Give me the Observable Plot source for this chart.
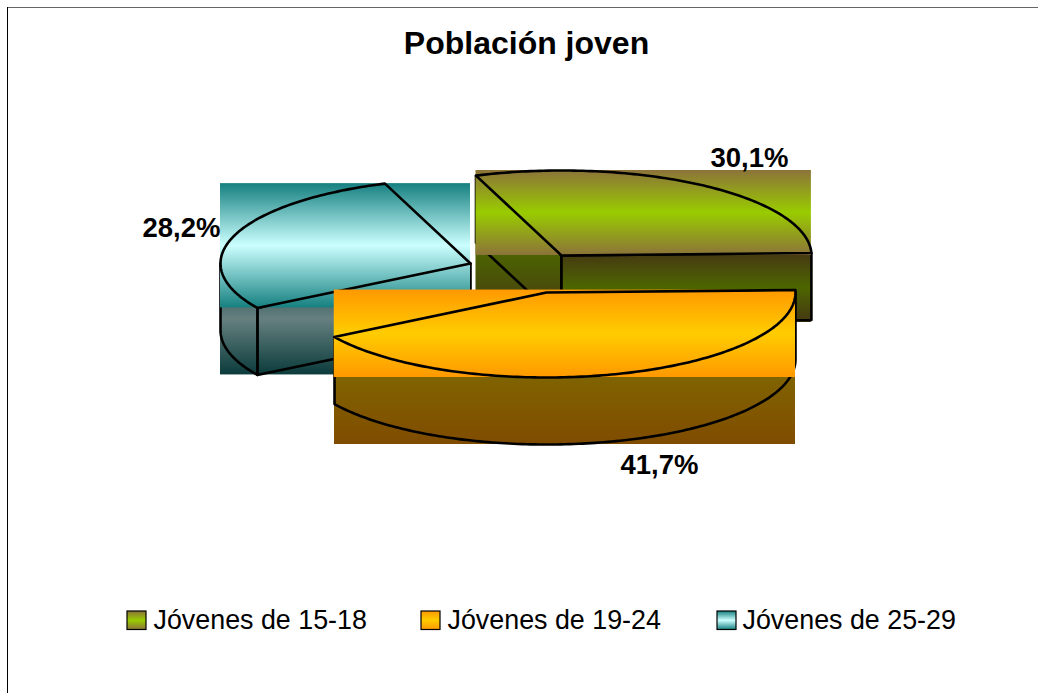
<!DOCTYPE html>
<html>
<head>
<meta charset="utf-8">
<style>html,body{margin:0;padding:0;background:#fff}svg{display:block}</style>
<script src="https://cdn.jsdelivr.net/npm/d3@7"></script>
<script src="https://cdn.jsdelivr.net/npm/@observablehq/plot@0.6"></script>
</head>
<body>
<script>
const titleText = "Población joven";
const categories = ["Jóvenes de 15-18", "Jóvenes de 19-24", "Jóvenes de 25-29"];
const shares = [30.1, 41.7, 28.2];
const shareLabels = ["30,1%", "41,7%", "28,2%"];

// Appearance and layout, kept apart from the data
const topEdge = ["#8c7339", "#ff9900", "#168080"];
const topMid  = ["#99cc00", "#ffcc00", "#ccffff"];
const sideEdge = ["#463713", "#804c00", "#0b3b3b"];
const sideMid  = ["#4d6600", "#806600", "#668080"];
const centers = [[561, 255], [546, 292], [470, 263]];
const radiiX = [250, 249, 250];
const labelAt = [[749, 158], [659, 465], [181, 228]];
const legendSwatchX = [127, 421, 717];
const legendTextX = [153, 447, 742];
const drawOrder = [2, 0, 1];
const RY = 85, DEPTH = 67, START = 250.0;
const W = 1038, H = 693;
const FONT = "'Liberation Sans', Arial, sans-serif";

const rad = d => d * Math.PI / 180;
const total = d3.sum(shares);
const spans = d3.cumsum([0, ...shares]);
const slices = categories.map((c, i) => ({
  i, c, cx: centers[i][0], cy: centers[i][1], rx: radiiX[i],
  a0: START + spans[i] / total * 360,
  a1: START + spans[i + 1] / total * 360
}));

const pt = (s, a, dz = 0) => ({x: s.cx + s.rx * Math.cos(rad(a)), y: s.cy + RY * Math.sin(rad(a)) + dz});
const arc = (s, a0, a1, dz = 0) => {
  const n = Math.max(2, Math.ceil(Math.abs(a1 - a0)));
  return d3.range(n + 1).map(k => pt(s, a0 + (a1 - a0) * k / n, dz));
};
const bbox = pts => {
  const [x1, x2] = d3.extent(pts, d => d.x), [y1, y2] = d3.extent(pts, d => d.y);
  return {x1, x2, y1, y2};
};
// portion of the rim that faces the viewer (sin > 0)
function frontRange(s) {
  let lo = null, hi = null;
  for (let a = s.a0; a <= s.a1 + 1e-6; a += 0.25) {
    if (Math.sin(rad(a)) > 0) { if (lo === null) lo = a; hi = a; }
  }
  return lo === null ? null : [lo, hi];
}

const marks = [];
const stroke = pts => Plot.line(pts, {x: "x", y: "y", stroke: "#000", strokeWidth: 2.6, strokeLinejoin: "round"});
const box = (b, id) => Plot.rect([b], {x1: "x1", x2: "x2", y1: "y1", y2: "y2", fill: `url(#${id})`});

function defs() {
  const svgNS = "http://www.w3.org/2000/svg";
  const g = document.createElementNS(svgNS, "defs");
  const add = (id, e, m) => {
    const lg = document.createElementNS(svgNS, "linearGradient");
    lg.setAttribute("id", id);
    lg.setAttribute("x1", 0); lg.setAttribute("y1", 0); lg.setAttribute("x2", 0); lg.setAttribute("y2", 1);
    [[0, e], [0.5, m], [1, e]].forEach(([o, c]) => {
      const st = document.createElementNS(svgNS, "stop");
      st.setAttribute("offset", o); st.setAttribute("stop-color", c);
      lg.appendChild(st);
    });
    g.appendChild(lg);
  };
  categories.forEach((_, i) => {
    add(`top${i}`, topEdge[i], topMid[i]);
    add(`side${i}`, sideEdge[i], sideMid[i]);
  });
  return g;
}
marks.push(defs);

// frame
marks.push(Plot.ruleY([7], {x1: 7, x2: W, stroke: "#666", strokeWidth: 1}));
marks.push(Plot.ruleX([7], {y1: 7, y2: H, stroke: "#000", strokeWidth: 1}));

drawOrder.forEach(idx => {
  const s = slices[idx];
  const c = {x: s.cx, y: s.cy}, cb = {x: s.cx, y: s.cy + DEPTH};
  const wall = a => {
    const p = pt(s, a), pb = pt(s, a, DEPTH);
    const poly = [c, p, pb, cb, c];
    marks.push(box(bbox(poly), `side${s.i}`));
    marks.push(stroke(poly));
  };
  if (Math.cos(rad(s.a0)) < 0) wall(s.a0);
  if (Math.cos(rad(s.a1)) > 0) wall(s.a1);
  const fr = frontRange(s);
  if (fr) {
    const up = arc(s, fr[0], fr[1]), low = arc(s, fr[0], fr[1], DEPTH);
    marks.push(box(bbox([...up, ...low]), `side${s.i}`));
    marks.push(stroke([up[0], ...low, up[up.length - 1]]));
  }
  const face = [c, ...arc(s, s.a0, s.a1), c];
  marks.push(box(bbox(face), `top${s.i}`));
  marks.push(stroke(face));
});

// share labels
marks.push(Plot.text(shareLabels, {
  x: (_, i) => labelAt[i][0], y: (_, i) => labelAt[i][1], text: d => d,
  fontFamily: FONT, fontWeight: "bold", fontSize: 27.5, fill: "#000", lineAnchor: "middle", textAnchor: "middle"
}));
// title
marks.push(Plot.text([titleText], {
  x: () => 526, y: () => 43, text: d => d,
  fontFamily: FONT, fontWeight: "bold", fontSize: 32, fill: "#000", lineAnchor: "middle", textAnchor: "middle"
}));
// legend
categories.forEach((c, i) => {
  marks.push(Plot.rect([c], {
    x1: () => legendSwatchX[i], x2: () => legendSwatchX[i] + 19,
    y1: () => 611, y2: () => 629.5,
    fill: `url(#top${i})`, stroke: "#000", strokeWidth: 1.2
  }));
});
marks.push(Plot.text(categories, {
  x: (_, i) => legendTextX[i], y: () => 620, text: d => d,
  fontFamily: FONT, fontSize: 26.85, fill: "#000", lineAnchor: "middle", textAnchor: "start"
}));

const chart = Plot.plot({
  width: W, height: H, margin: 0,
  style: {background: "#fff"},
  x: {domain: [0, W], range: [0, W], axis: null},
  y: {domain: [0, H], range: [0, H], axis: null},
  marks
});
document.body.appendChild(chart);
</script>
</body>
</html>
